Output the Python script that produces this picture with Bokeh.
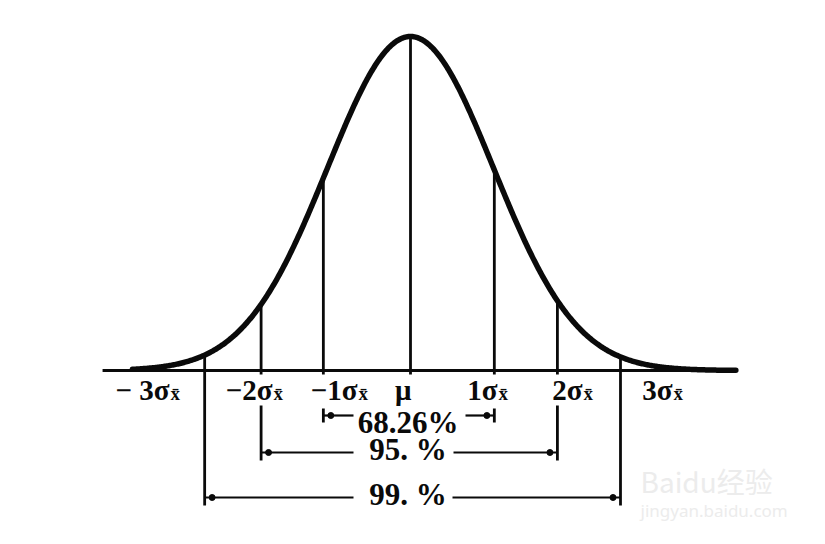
import numpy as np
from bokeh.plotting import figure
from bokeh.models import Range1d, Label
from bokeh.core.properties import value
from bokeh.embed import file_html
from bokeh.resources import INLINE

# ---------------- data (x in sigma units, y = density relative to peak) -------------
mu = 0.0
sigma = 1.0
curve_from, curve_to = -3.35, 3.92          # extent of the drawn bell curve
axis_from, axis_to = -3.71, 3.94            # extent of the base line
line_pos = [-2.48, -1.80, -1.05, 0.0, 1.01, 1.77, 2.53]   # vertical lines under the curve
tick_pos = [-2.904, -1.663, -0.639, 0.012, 1.048, 2.072, 3.157]
tick_main = ["\u2212 3\u03c3", "\u22122\u03c3", "\u22121\u03c3", "\u03bc", "1\u03c3", "2\u03c3", "3\u03c3"]
tick_sub = ["x\u0304", "x\u0304", "x\u0304", "", "x\u0304", "x\u0304", "x\u0304"]
band_labels = ["68.26%", "95. %", "99. %"]
band_lo = [-1.05, -1.80, -2.48]
band_hi = [1.01, 1.77, 2.53]

# ---------------- layout / style constants ----------------
W, H = 809, 528
ORIGIN = 0                           # page px of the canvas corner as photographed
PX_X0, PX_PER_U = 410.0, 83.0       # page px of mu, px per sigma
PX_Y0, PX_PER_V = 370.0, 334.0      # page px of baseline, px per unit height
TXT_SHIFT = 11                       # text baseline correction (px)

def vy(px):  # page pixel row -> data y
    return (PX_Y0 - px) / PX_PER_V

def ux(px):
    return (px - PX_X0) / PX_PER_U

FONT = value("Liberation Serif")
INK = "#0a0a0a"

def pdf(x):
    x = np.asarray(x, dtype=float)
    return np.exp(-0.5 * ((x - mu) / sigma) ** 2)

p = figure(width=W, height=H, output_backend="svg", toolbar_location=None,
           x_range=Range1d(ux(ORIGIN), ux(ORIGIN + W)), y_range=Range1d(vy(ORIGIN + H), vy(ORIGIN)),
           min_border=0, outline_line_color=None, background_fill_color="white",
           border_fill_color="white")
p.axis.visible = False
p.grid.visible = False

# bell curve
xs = np.linspace(curve_from, curve_to, 600)
p.line(xs, pdf(xs), line_color=INK, line_width=5.5, line_cap="round", line_join="round")

# base line
p.line([axis_from, axis_to], [0, 0], line_color=INK, line_width=3)

# vertical lines from curve down
bottoms = []
for x in line_pos:
    if x in (band_lo[2], band_hi[2]):
        bottoms.append(vy(505))
    else:
        bottoms.append(vy(374))
p.segment(x0=line_pos, y0=bottoms, x1=line_pos, y1=pdf(line_pos).tolist(),
          line_color=INK, line_width=2.8)

# lower parts of the 95% bracket ends
p.segment(x0=[band_lo[1], band_hi[1]], y0=[vy(405)] * 2, x1=[band_lo[1], band_hi[1]], y1=[vy(460)] * 2,
          line_color=INK, line_width=2.8)
# end ticks of the 68.26% bracket
p.segment(x0=[band_lo[0], band_hi[0]], y0=[vy(408)] * 2, x1=[band_lo[0], band_hi[0]], y1=[vy(422)] * 2,
          line_color=INK, line_width=2.8)

# bracket horizontal segments (gap around the text)
levels = [vy(415), vy(452), vy(497)]
gaps = [(ux(353), ux(465)), (ux(353), ux(453)), (ux(353), ux(452))]
x0s, x1s, ys = [], [], []
for lo, hi, yl, (g0, g1) in zip(band_lo, band_hi, levels, gaps):
    x0s += [lo, g1]
    x1s += [g0, hi]
    ys += [yl, yl]
p.segment(x0=x0s, y0=ys, x1=x1s, y1=ys, line_color=INK, line_width=2.2)

# arrow dots near bracket ends
dx, dy = [], []
for lo, hi, yl in zip(band_lo, band_hi, levels):
    dx += [lo + 0.09, hi - 0.09]
    dy += [yl, yl]
p.scatter(dx, dy, size=6, color=INK)

# band percentage texts
text_base = [vy(433 - TXT_SHIFT), vy(460 - TXT_SHIFT), vy(505 - TXT_SHIFT)]
p.text(x=[ux(407.5)] * 3, y=text_base, text=band_labels, text_font=FONT,
       text_font_size="31px", text_align="center", text_baseline="alphabetic", text_color=INK,
       text_font_style="bold")

# tick labels under the base line
lab_y = [vy(400 - TXT_SHIFT)] * len(tick_pos)
p.text(x=tick_pos, y=lab_y, text=tick_main, text_font=FONT,
       text_font_size="29px", text_align="right", text_baseline="alphabetic", text_color=INK,
       text_font_style="bold")
p.text(x=tick_pos, y=lab_y, text=tick_sub, text_font=FONT,
       text_font_size="19px", text_align="left", text_baseline="alphabetic", text_color=INK,
       x_offset=1, y_offset=4, text_font_style="bold")

# faint watermark
p.add_layout(Label(x=ux(640), y=vy(500), text="Baidu\u7ecf\u9a8c", text_font_size="28px",
                   text_font="Noto Sans CJK SC", text_color="#ececec"))
p.add_layout(Label(x=ux(640), y=vy(521), text="jingyan.baidu.com", text_font_size="17px",
                   text_font="Noto Sans", text_color="#ececec"))

open("out.html", "w").write(file_html(p, INLINE))
